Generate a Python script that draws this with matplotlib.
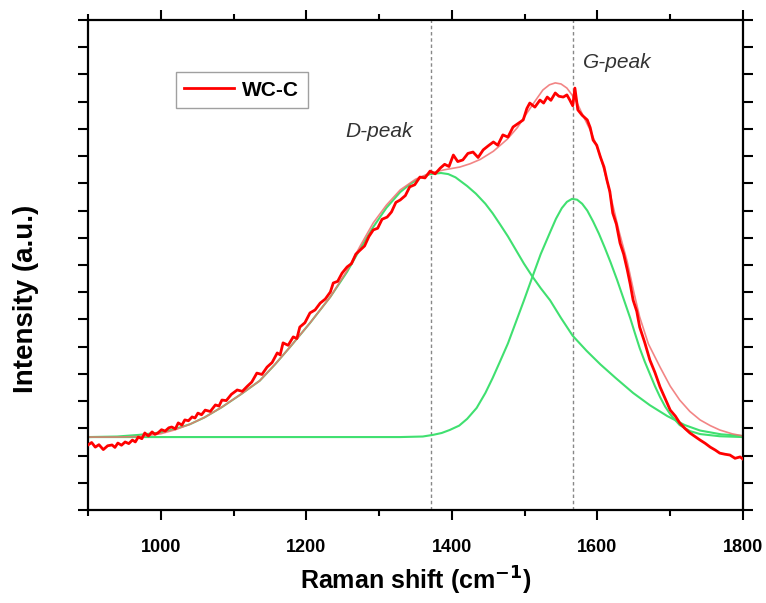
import numpy as np
import matplotlib
matplotlib.use("Agg")
import matplotlib.pyplot as plt
from matplotlib.ticker import MultipleLocator, NullFormatter

plt.rcParams['font.family'] = ['Liberation Sans', 'DejaVu Sans']

# measured spectrum (Raman shift cm-1, intensity a.u.)
wcc = np.array([
    [900, 2.39], [905, 2.48], [910, 2.31], [915, 2.40], [921, 2.22], [927, 2.36],
    [933, 2.39], [937, 2.30], [941, 2.46], [946, 2.38], [951, 2.50], [956, 2.44],
    [961, 2.57], [965, 2.50], [969, 2.68], [974, 2.62], [978, 2.83], [983, 2.72],
    [988, 2.87], [992, 2.78], [996, 2.83], [1001, 2.95], [1006, 2.90], [1011, 3.02],
    [1015, 3.05], [1020, 2.98], [1024, 3.20], [1029, 3.12], [1033, 3.31], [1038, 3.28],
    [1043, 3.42], [1047, 3.38], [1051, 3.56], [1056, 3.50], [1061, 3.67], [1068, 3.62],
    [1075, 3.86], [1080, 3.82], [1084, 4.04], [1090, 4.02], [1097, 4.25], [1105, 4.41],
    [1112, 4.36], [1119, 4.55], [1125, 4.70], [1132, 5.03], [1139, 4.98], [1146, 5.25],
    [1153, 5.42], [1160, 5.77], [1164, 5.70], [1168, 6.14], [1175, 6.05], [1182, 6.36],
    [1187, 6.30], [1191, 6.72], [1198, 6.88], [1205, 7.24], [1212, 7.35], [1219, 7.60],
    [1226, 7.75], [1233, 8.01], [1237, 8.34], [1243, 8.40], [1249, 8.70], [1256, 8.93],
    [1262, 9.05], [1268, 9.40], [1274, 9.55], [1280, 9.70], [1286, 10.05], [1292, 10.29],
    [1298, 10.35], [1304, 10.68], [1311, 10.76], [1317, 10.95], [1323, 11.30], [1329, 11.39],
    [1336, 11.55], [1342, 11.87], [1349, 11.95], [1356, 12.23], [1363, 12.20], [1370, 12.45],
    [1377, 12.35], [1384, 12.56], [1390, 12.70], [1396, 12.62], [1402, 13.04], [1408, 12.80],
    [1415, 12.86], [1422, 13.10], [1429, 13.15], [1436, 12.95], [1443, 13.23], [1450, 13.38],
    [1457, 13.52], [1463, 13.40], [1470, 13.78], [1477, 13.70], [1484, 14.07], [1491, 14.20],
    [1498, 14.33], [1503, 14.75], [1507, 14.95], [1514, 14.80], [1521, 15.06], [1526, 14.95],
    [1531, 15.17], [1536, 15.05], [1542, 15.32], [1547, 15.20], [1553, 15.17], [1558, 15.25],
    [1562, 15.06], [1566, 14.85], [1569, 15.50], [1573, 14.70], [1579, 14.50], [1586, 14.33],
    [1590, 14.05], [1594, 13.59], [1599, 13.40], [1604, 12.97], [1609, 12.60], [1613, 12.12],
    [1617, 11.70], [1621, 10.91], [1626, 10.50], [1631, 9.81], [1636, 9.40], [1641, 8.82],
    [1645, 8.30], [1649, 7.71], [1654, 7.30], [1658, 6.72], [1665, 6.15], [1672, 5.51],
    [1679, 5.05], [1686, 4.52], [1693, 4.10], [1700, 3.67], [1707, 3.45], [1713, 3.20],
    [1720, 3.00], [1727, 2.83], [1734, 2.70], [1741, 2.57], [1748, 2.45], [1755, 2.31],
    [1762, 2.20], [1768, 2.09], [1775, 2.05], [1782, 2.02], [1789, 1.90], [1796, 1.95],
    [1800, 1.87],
])

# cumulative fit
fit = np.array([
    [900, 2.68], [940, 2.68], [971, 2.70], [1000, 2.80], [1020, 2.95], [1040, 3.15],
    [1060, 3.40], [1084, 3.78], [1110, 4.25], [1136, 4.75], [1157, 5.35], [1178, 6.00],
    [1205, 6.87], [1233, 7.83], [1256, 8.80], [1274, 9.70], [1292, 10.55], [1310, 11.20],
    [1329, 11.76], [1350, 12.15], [1370, 12.38], [1390, 12.50], [1411, 12.60], [1425, 12.72],
    [1439, 12.88], [1457, 13.18], [1476, 13.62], [1490, 14.05], [1503, 14.58], [1515, 15.05],
    [1525, 15.43], [1534, 15.62], [1542, 15.69], [1550, 15.65], [1558, 15.50], [1565, 15.25],
    [1572, 14.95], [1580, 14.50], [1590, 13.96], [1597, 13.50], [1604, 13.00], [1612, 12.20],
    [1621, 11.21], [1630, 10.20], [1641, 9.11], [1650, 8.00], [1658, 7.09], [1670, 6.10],
    [1686, 5.25], [1700, 4.55], [1713, 4.04], [1727, 3.62], [1741, 3.31], [1755, 3.10],
    [1768, 2.94], [1785, 2.80], [1800, 2.72],
])

# D band component
d_peak = np.array([
    [900, 2.68], [940, 2.70], [970, 2.76], [1000, 2.85], [1020, 2.98], [1040, 3.15],
    [1060, 3.40], [1084, 3.78], [1110, 4.25], [1136, 4.75], [1157, 5.35], [1178, 6.00],
    [1205, 6.87], [1233, 7.83], [1256, 8.75], [1274, 9.60], [1292, 10.40], [1310, 11.10],
    [1329, 11.68], [1343, 11.98], [1356, 12.20], [1370, 12.34], [1385, 12.38], [1395, 12.34],
    [1405, 12.22], [1421, 11.90], [1433, 11.62], [1446, 11.25], [1456, 10.90], [1466, 10.50],
    [1477, 10.05], [1488, 9.55], [1499, 9.05], [1510, 8.60], [1522, 8.15], [1535, 7.70],
    [1550, 7.05], [1566, 6.40], [1585, 5.85], [1604, 5.35], [1625, 4.85], [1649, 4.30],
    [1672, 3.85], [1696, 3.45], [1720, 3.12], [1741, 2.92], [1770, 2.78], [1800, 2.72],
])

# G band component
g_peak = np.array([
    [900, 2.68], [1329, 2.68], [1360, 2.70], [1374, 2.76], [1386, 2.83], [1397, 2.94],
    [1410, 3.10], [1421, 3.35], [1434, 3.75], [1446, 4.30], [1456, 4.85], [1466, 5.45],
    [1477, 6.12], [1488, 6.91], [1499, 7.70], [1510, 8.52], [1522, 9.40], [1535, 10.21],
    [1543, 10.70], [1551, 11.09], [1558, 11.32], [1565, 11.43], [1572, 11.40], [1579, 11.25],
    [1586, 11.00], [1594, 10.60], [1602, 10.15], [1610, 9.64], [1618, 9.10], [1627, 8.45],
    [1636, 7.75], [1645, 7.05], [1652, 6.45], [1658, 5.95], [1665, 5.45], [1672, 5.00],
    [1679, 4.55], [1686, 4.15], [1693, 3.80], [1700, 3.52], [1707, 3.30], [1713, 3.12],
    [1727, 2.90], [1741, 2.79], [1768, 2.71], [1800, 2.68],
])

peak_pos = [1371, 1566]
peak_names = ["D-peak", "G-peak"]

fig = plt.figure(figsize=(7.66, 6.03), dpi=100)
ax = fig.add_axes([0.1149, 0.1542, 0.8551, 0.8126])

for p in peak_pos:
    ax.axvline(p, color="#888888", ls=(0, (2.5, 2)), lw=1.0, zorder=1)

ax.plot(d_peak[:, 0], d_peak[:, 1], color="#40e070", lw=1.5, zorder=2)
ax.plot(g_peak[:, 0], g_peak[:, 1], color="#40e070", lw=1.5, zorder=2)
ax.plot(fit[:, 0], fit[:, 1], color="#f07070", lw=1.2, alpha=0.85, zorder=2.5)
ax.plot(wcc[:, 0], wcc[:, 1], color="#ff0000", lw=2.0, label="WC-C", zorder=3)

ax.text(1253, 13.9, peak_names[0], fontsize=15, style="italic", color="#333333", va="center")
ax.text(1580, 16.45, peak_names[1], fontsize=15, style="italic", color="#333333", va="center")

ax.set_xlim(900, 1800)
ax.set_ylim(0, 18)
ax.xaxis.set_major_locator(MultipleLocator(200))
ax.xaxis.set_minor_locator(MultipleLocator(100))
ax.yaxis.set_major_locator(MultipleLocator(1))
ax.yaxis.set_major_formatter(NullFormatter())

ax.tick_params(which="both", direction="out", top=True, right=True, width=1.5)
ax.tick_params(which="major", length=7, labelsize=13, pad=14)
ax.tick_params(which="minor", length=4)
for lab in ax.get_xticklabels():
    lab.set_fontweight("bold")
for s in ax.spines.values():
    s.set_linewidth(1.6)

ax.set_xlabel("Raman shift (cm$^{\\mathbf{-1}}$)", fontsize=18, fontweight="bold", labelpad=6)
ax.set_ylabel("Intensity (a.u.)", fontsize=20, fontweight="bold")
ax.yaxis.set_label_coords(-0.075, 0.43)

leg = ax.legend(loc="upper left", bbox_to_anchor=(0.134, 0.893), borderaxespad=0,
                fancybox=False, edgecolor="#888888", handlelength=2.4,
                handletextpad=0.4, borderpad=0.4,
                prop={"size": 15, "weight": "bold"})
leg.get_frame().set_linewidth(1.0)

fig.savefig("out.png", dpi=100)
